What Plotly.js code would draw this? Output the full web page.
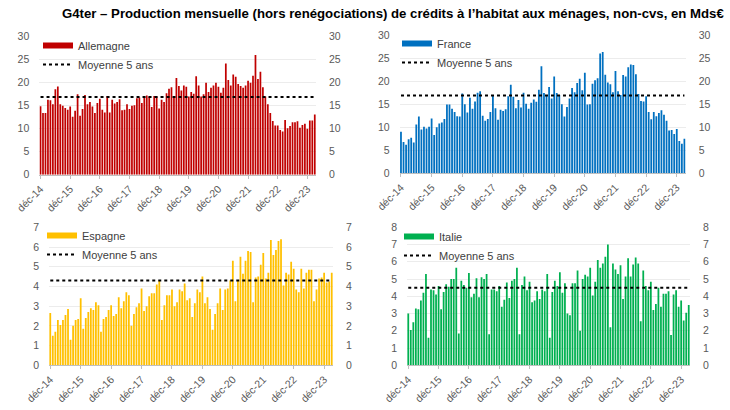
<!DOCTYPE html>
<html>
<head>
<meta charset="utf-8">
<script src="https://cdn.plot.ly/plotly-3.0.1.min.js"></script>
<style>html,body{margin:0;padding:0;background:#fff;}#chart{width:730px;height:410px;}</style>
</head>
<body>
<div id="chart"></div>
<script>
// ---- data ----
const monthNames = ['janv','févr','mars','avr','mai','juin','juil','août','sept','oct','nov','déc'];
// monthly categories from déc-14 to mars-24
const categories = ['déc-14'];
for (let y = 15; y <= 24; y++) {
  for (let m = 0; m < 12; m++) {
    if (y === 24 && m > 2) break;
    categories.push(monthNames[m] + '-' + y);
  }
}
const tickLabels = ['déc-14','déc-15','déc-16','déc-17','déc-18','déc-19','déc-20','déc-21','déc-22','déc-23'];

const allemagne = [14.9,13.4,13.4,16.3,16.2,15.3,18.6,19.2,15.3,15.0,14.5,14.1,
  14.8,12.6,13.9,17.5,12.8,14.3,17.3,15.3,15.8,14.8,13.4,15.6,
  16.5,14.1,13.5,17.1,13.5,16.3,15.5,15.8,16.4,14.0,14.1,15.3,
  14.3,15.0,15.1,16.6,16.8,15.6,17.0,17.2,17.0,14.7,17.1,17.0,
  14.4,16.3,15.8,17.7,18.7,19.0,17.0,21.0,19.3,18.3,19.4,19.1,
  17.0,18.0,17.6,21.4,19.4,17.0,17.5,20.0,18.0,18.9,19.4,20.0,
  19.1,17.8,18.9,24.2,20.6,19.4,21.8,21.3,19.7,19.3,18.9,19.4,
  20.4,20.0,21.5,26.0,20.8,22.4,19.0,17.0,15.3,13.4,11.7,10.7,
  10.7,9.7,9.4,11.9,10.1,10.6,11.4,11.4,11.6,10.2,10.8,11.1,
  10.0,11.8,11.8,13.1];
const france = [9.0,6.8,6.2,7.4,7.7,6.7,10.6,12.3,9.5,10.1,9.7,10.1,
  11.9,8.3,10.0,10.8,11.0,11.8,14.9,14.9,14.0,13.3,12.4,12.3,
  17.3,15.0,13.2,16.4,14.0,15.6,17.5,17.8,12.5,11.4,11.8,13.3,
  16.8,14.1,11.6,13.8,13.5,13.9,16.7,19.2,16.6,14.1,15.9,14.3,
  17.5,15.1,14.0,15.3,16.0,15.5,18.1,23.2,17.4,17.0,18.7,16.2,
  21.0,17.4,17.0,15.0,12.3,14.4,16.2,18.5,17.6,19.6,20.5,18.0,
  21.8,14.9,15.0,19.4,20.2,20.6,26.0,26.3,21.4,19.7,19.3,17.6,
  22.2,17.8,17.0,21.3,21.0,23.0,23.6,23.5,21.5,17.2,15.7,15.6,
  16.7,13.3,11.7,13.3,12.4,13.1,13.7,12.7,11.4,9.3,9.4,8.5,
  9.6,7.0,6.4,7.5];
const espagne = [2.65,1.5,1.7,2.3,2.05,2.3,2.55,2.85,1.3,2.0,2.3,2.35,
  3.4,1.85,2.4,2.7,2.9,2.8,3.2,3.05,1.7,2.35,2.45,2.8,
  3.05,2.5,2.6,3.45,2.9,3.25,3.7,3.55,2.0,2.6,2.95,3.15,
  3.9,2.75,3.0,3.5,3.65,3.65,4.1,4.3,2.3,3.05,3.55,3.55,
  3.85,3.0,3.2,3.85,3.75,4.15,3.3,3.4,2.45,3.15,3.85,3.7,
  4.5,3.15,3.45,2.85,1.8,2.6,3.15,3.9,2.8,3.85,3.9,4.3,
  5.3,3.25,4.3,5.5,4.65,5.3,5.8,5.75,3.2,4.45,4.5,5.1,
  5.7,4.4,4.7,6.35,5.6,5.85,6.3,6.4,4.05,4.7,4.6,5.25,
  4.9,3.85,3.7,4.9,3.9,4.7,4.85,4.85,3.25,3.85,4.4,4.45,
  4.7,4.2,4.25,4.7];
const italie = [3.0,2.05,2.5,3.3,3.25,3.75,4.2,5.3,1.6,4.4,4.35,4.1,
  4.6,3.25,4.25,4.7,4.55,5.0,5.0,5.65,1.85,4.9,4.65,4.5,
  5.35,3.95,4.15,5.05,3.95,5.1,5.0,5.3,1.8,4.4,4.4,4.3,
  4.6,3.4,3.8,4.8,3.9,4.9,5.0,5.65,1.8,4.65,5.15,4.35,
  4.85,3.65,3.75,4.3,3.85,4.4,4.3,5.3,1.6,4.25,4.9,4.6,
  5.4,4.2,4.75,3.0,2.9,4.75,4.75,5.5,2.0,5.0,5.25,5.15,
  5.65,4.05,4.85,6.1,5.65,5.9,6.3,7.0,2.2,5.9,5.55,5.3,
  5.8,3.85,5.15,6.2,5.15,5.85,6.25,5.9,2.55,5.5,4.6,4.35,
  4.85,3.2,3.55,4.5,3.4,4.15,4.15,4.3,1.75,4.1,4.35,3.4,
  3.75,2.6,3.05,3.5];
const countryNames = ['Allemagne','France','Espagne','Italie'];
const moyenne5ans = [16.9, 16.9, 4.3, 4.5];
const yMax = [30, 30, 7, 8];
const colors = ['#C00000','#0070C0','#FFC000','#00B050'];
const series = [allemagne, france, espagne, italie];

// ---- layout geometry (pixel based) ----
const W = 730, H = 410;
const boxes = [
  {x0:39.3, x1:316, yTop:36.7, yBot:174.7, legX:38, legY:31},
  {x0:399.7, x1:685.7, yTop:35, yBot:173.3, legX:397, legY:29},
  {x0:49, x1:333, yTop:227.3, yBot:365.3, legX:42, legY:221},
  {x0:407, x1:690, yTop:227.3, yBot:365.3, legX:399, legY:222}
];

const tickFont = {family:'Liberation Sans, Arial, sans-serif', size:10.5, color:'#595959'};
const traces = [];
const layout = {
  width: W, height: H,
  margin: {l:0, r:0, t:0, b:0},
  paper_bgcolor: '#fff', plot_bgcolor: 'rgba(0,0,0,0)',
  bargap: 0.3,
  showlegend: true,
  title: {
    text: 'G4ter – Production mensuelle (hors renégociations) de crédits à l’habitat aux ménages, non-cvs, en Mds€',
    x: 62/W, xanchor: 'left', xref: 'paper',
    y: 1 - 13/H, yanchor: 'middle', yref: 'paper',
    font: {family:'Liberation Sans, Arial, sans-serif', size:13.2, color:'#000', weight:'bold'}
  }
};

for (let i = 0; i < 4; i++) {
  const b = boxes[i];
  const n = i + 1;
  const xa = n === 1 ? 'x' : 'x' + n;
  const ya = n === 1 ? 'y' : 'y' + n;
  const yr = 'y' + (n + 4);
  const leg = n === 1 ? 'legend' : 'legend' + n;
  // bars
  traces.push({
    type: 'bar', x: categories, y: series[i], xaxis: xa, yaxis: ya,
    marker: {color: colors[i], line: {width: 0}},
    name: countryNames[i], showlegend: false, hoverinfo: 'x+y'
  });
  // legend swatch for the country (wide rectangle)
  traces.push({
    type: 'scatter', mode: 'lines', x: [null], y: [null], xaxis: xa, yaxis: ya,
    line: {color: colors[i], width: 6}, name: countryNames[i], legend: leg, showlegend: true
  });
  // 5-year mean dotted line
  traces.push({
    type: 'scatter', mode: 'lines',
    x: [categories[0], categories[categories.length - 1]],
    y: [moyenne5ans[i], moyenne5ans[i]],
    xaxis: xa, yaxis: yr,
    line: {color: '#000', width: 2, dash: 'dot'},
    name: 'Moyenne 5 ans', legend: leg, showlegend: true, hoverinfo: 'y'
  });

  const dom = [b.x0 / W, b.x1 / W];
  const ydom = [1 - b.yBot / H, 1 - b.yTop / H];
  layout[n === 1 ? 'xaxis' : 'xaxis' + n] = {
    domain: dom, anchor: ya, type: 'category',
    categoryorder: 'array', categoryarray: categories,
    range: [-0.5, categories.length - 0.5],
    tickmode: 'array', tickvals: tickLabels, ticktext: tickLabels,
    tickangle: -45, tickfont: tickFont,
    showline: true, linecolor: '#BFBFBF', linewidth: 1,
    ticks: 'outside', ticklen: 3, tickcolor: '#BFBFBF',
    showgrid: false, zeroline: false, fixedrange: true
  };
  const dtick = yMax[i] === 30 ? 5 : 1;
  layout[n === 1 ? 'yaxis' : 'yaxis' + n] = {
    domain: ydom, anchor: xa, range: [0, yMax[i]], dtick: dtick,
    tickfont: tickFont, showgrid: true, gridcolor: '#ECECEC', gridwidth: 1,
    zeroline: false, showline: false, ticks: '', ticklabelstandoff: 9, fixedrange: true
  };
  layout['yaxis' + (n + 4)] = {
    overlaying: ya, side: 'right', anchor: xa, range: [0, yMax[i]], dtick: dtick,
    tickfont: tickFont, showgrid: false, zeroline: false, showline: false,
    ticks: '', ticklabelstandoff: 12, fixedrange: true
  };
  layout[leg] = {
    x: b.legX / W, y: 1 - b.legY / H, xanchor: 'left', yanchor: 'top',
    xref: 'paper', yref: 'paper',
    bgcolor: 'rgba(0,0,0,0)', borderwidth: 0,
    font: {family:'Liberation Sans, Arial, sans-serif', size:11, color:'#404040'},
    itemwidth: 30, tracegroupgap: 0, traceorder: 'normal'
  };
}

Plotly.newPlot('chart', traces, layout, {displayModeBar: false, staticPlot: true});
</script>
</body>
</html>
